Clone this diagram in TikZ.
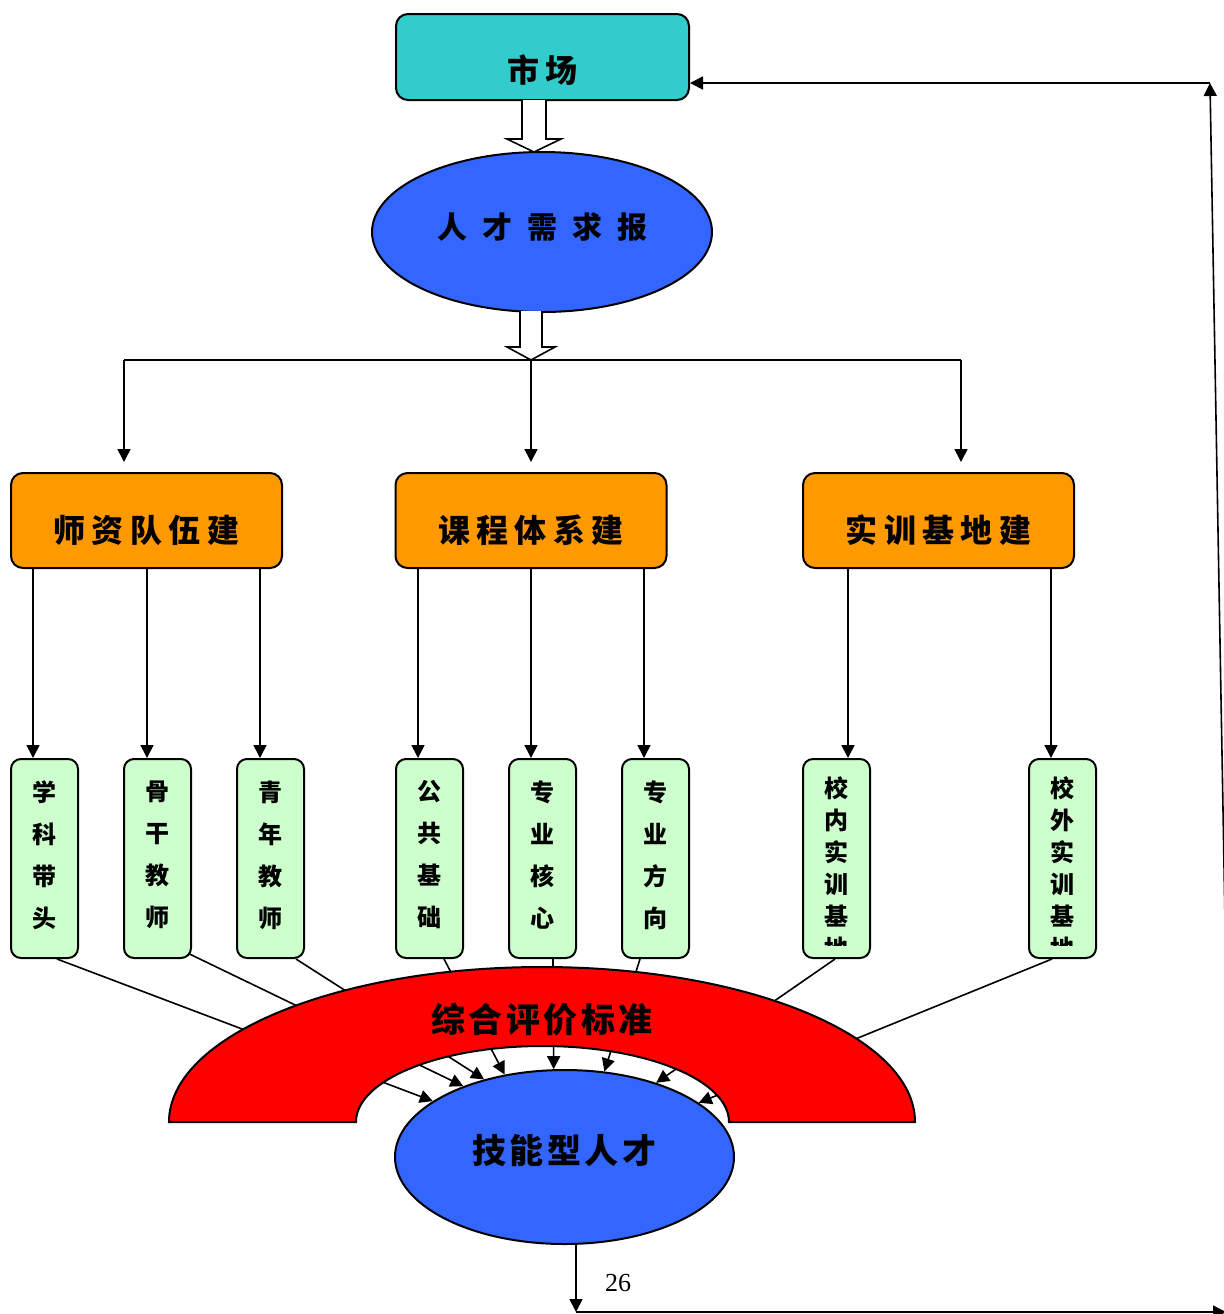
\documentclass[tikz,border=0pt]{standalone}
\usepackage{fontspec}
\newfontfamily\cjk{Noto Sans CJK SC}
\newfontfamily\tms{Liberation Serif}
\usetikzlibrary{arrows.meta,shapes.geometric,calc}
\definecolor{cteal}{HTML}{33CCCC}
\definecolor{cblue}{HTML}{3366FF}
\definecolor{corange}{HTML}{FF9900}
\definecolor{cgreen}{HTML}{CCFFCC}
\definecolor{cred}{HTML}{FF0000}
\newcommand\lowr[2]{\raisebox{-#1}[\height][\depth]{#2}}
\begin{document}
\begin{tikzpicture}[x=0.5pt,y=-0.5pt,
  arr/.style={draw, line width=0.8pt, -{Triangle[length=6.5pt,width=6.5pt]}},
  busline/.style={draw, line width=1.4pt},
  hollow/.style={draw, line width=0.8pt, fill=white, line join=miter},
  mkbox/.style={draw, line width=1pt, rounded corners=6pt, fill=cteal, inner sep=0pt,
    minimum width=146.5pt, minimum height=43pt, font=\cjk\bfseries\fontsize{16}{16}\selectfont},
  ell/.style={draw, line width=1pt, ellipse, fill=cblue, inner sep=0pt},
  obox/.style={draw, line width=1pt, rounded corners=6pt, fill=corange, inner sep=0pt,
    minimum width=135.5pt, minimum height=47.5pt, font=\cjk\bfseries\fontsize{16}{16}\selectfont},
  gbox/.style={draw, line width=1pt, rounded corners=5pt, fill=cgreen, inner sep=0pt,
    minimum width=33.5pt, minimum height=99.5pt},
  vtxt/.style={align=center, inner sep=0pt, font=\cjk\bfseries\fontsize{12}{21}\selectfont},
  vtxtb/.style={align=center, inner sep=0pt, font=\cjk\bfseries\fontsize{12}{16}\selectfont},
]
\clip (0,0) rectangle (1224,1314);
\fill[white] (0,0) rectangle (1224,1314);

% top
\node[mkbox] (mk) at (542.5,57) {\lowr{6.5pt}{市\kern3pt 场}};
\node[ell, minimum width=170pt, minimum height=80pt,
  font=\cjk\bfseries\fontsize{15}{15}\selectfont] (req) at (542,232)
  {\lowr{-2.5pt}{人\kern7.5pt 才\kern7.5pt 需\kern7.5pt 求\kern7.5pt 报}};
\draw[hollow] (522,100) -- (522,139) -- (507,139) -- (534,152) -- (561,139) -- (546,139) -- (546,100);
\draw[hollow] (520,311) -- (520,347) -- (507,347) -- (531,360) -- (555,347) -- (542,347) -- (542,311);

% bus
\coordinate (bl) at (124,360);
\coordinate (bm) at (531,360);
\coordinate (br) at (961,360);
\draw[busline] (bl) -- (br);

% orange
\node[obox] (o1) at (146.5,520.5) {\lowr{5pt}{师\kern3.25pt 资\kern3.25pt 队\kern3.25pt 伍\kern3.25pt 建}};
\node[obox] (o2) at (531,520.5) {\lowr{5pt}{课\kern3.25pt 程\kern3.25pt 体\kern3.25pt 系\kern3.25pt 建}};
\node[obox] (o3) at (938.5,520.5) {\lowr{5pt}{实\kern3.25pt 训\kern3.25pt 基\kern3.25pt 地\kern3.25pt 建}};
\draw[arr] (bl) -- ($(bl |- o1.north)+(0,-10)$);
\draw[arr] (bm) -- ($(bm |- o2.north)+(0,-10)$);
\draw[arr] (br) -- ($(br |- o3.north)+(0,-10)$);

% green
\node[gbox] (g1) at (44.5,858.5) {};
\node[gbox] (g2) at (157.5,858.5) {};
\node[gbox] (g3) at (270.5,858.5) {};
\node[gbox] (g4) at (429.5,858.5) {};
\node[gbox] (g5) at (542.5,858.5) {};
\node[gbox] (g6) at (655.5,858.5) {};
\node[gbox] (g7) at (836.5,858.5) {};
\node[gbox] (g8) at (1062.5,858.5) {};
\node[vtxt] (x1) at (44.5,855) {学\\科\\带\\头};
\node[vtxt] (x2) at (157.5,855) {骨\\干\\教\\师};
\node[vtxt] (x3) at (270.5,855) {青\\年\\教\\师};
\node[vtxt] (x4) at (429.5,855) {公\\共\\基\\础};
\node[vtxt] (x5) at (542.5,855) {专\\业\\核\\心};
\node[vtxt] (x6) at (655.5,855) {专\\业\\方\\向};
\begin{scope}
\clip (803,760) rectangle (870,945);
\node[vtxtb] (x7) at (836.5,868) {校\\内\\实\\训\\基\\地};
\end{scope}
\begin{scope}
\clip (1029,760) rectangle (1096,945);
\node[vtxtb] (x8) at (1062.5,868) {校\\外\\实\\训\\基\\地};
\end{scope}

\coordinate (t1) at ([xshift=-5.75pt]g1.north);
\coordinate (t2) at ([xshift=-5.25pt]g2.north);
\coordinate (t3) at ([xshift=-5.25pt]g3.north);
\coordinate (t4) at ([xshift=-5.75pt]g4.north);
\coordinate (t5) at ([xshift=-5.75pt]g5.north);
\coordinate (t6) at ([xshift=-5.75pt]g6.north);
\coordinate (t7) at ([xshift=5.75pt]g7.north);
\coordinate (t8) at ([xshift=-5.75pt]g8.north);
\draw[arr] (t1 |- o1.south) -- (t1);
\draw[arr] (t2 |- o1.south) -- (t2);
\draw[arr] (t3 |- o1.south) -- (t3);
\draw[arr] (t4 |- o2.south) -- (t4);
\draw[arr] (t5 |- o2.south) -- (t5);
\draw[arr] (t6 |- o2.south) -- (t6);
\draw[arr] (t7 |- o3.south) -- (t7);
\draw[arr] (t8 |- o3.south) -- (t8);

% bottom ellipse
\node[ell, minimum width=169.5pt, minimum height=87pt,
  font=\cjk\bfseries\fontsize{17}{17}\selectfont] (tal) at (564.5,1157)
  {\lowr{-3pt}{技\kern1.75pt 能\kern1.75pt 型\kern1.75pt 人\kern1.75pt 才}};

% converging connectors
\draw[arr] ([xshift=6.25pt]g1.south) -- (tal.157.7);
\draw[arr] ([xshift=16pt,yshift=2.5pt]g2.south) -- (tal.145.8);
\draw[arr] ([xshift=12.75pt]g3.south) -- (tal.136.8);
\draw[arr] ([xshift=7.25pt]g4.south) -- (tal.126.5);
\draw[arr] ([xshift=5.25pt]g5.south) -- (tal.97.9);
\draw[arr] ([xshift=-7.75pt]g6.south) -- (tal.65.9);
\draw[arr] ([xshift=-0.75pt]g7.south) -- (tal.39.8);
\draw[arr] ([xshift=-5.25pt]g8.south) -- (tal.22.2);

% red arch
\draw[fill=cred, line width=1pt] (169,1122) arc[start angle=180, end angle=360, x radius=373, y radius=155]
  -- (729,1122) arc[start angle=0, end angle=-180, x radius=186.5, y radius=76] -- cycle;
\node[font=\cjk\bfseries\fontsize{17}{17}\selectfont, inner sep=0pt] (evl) at (542,1020)
  {综\kern1.8pt 合\kern1.8pt 评\kern1.8pt 价\kern1.8pt 标\kern1.8pt 准};

% feedback loop
\coordinate (fa) at (576,1312);
\coordinate (fb) at (1226,1312);
\coordinate (fc) at (1232,1312);
\coordinate (fd) at (1210,83);
\draw[arr] (fa |- tal.south) -- (fa);
\draw[arr] (fa) -- (fb);
\draw[arr] (fc) -- (fd);
\draw[arr] (fd) -- (mk.east |- fd);
\node[font=\tms\fontsize{13}{13}\selectfont, inner sep=0pt] (pg) at (618,1283) {26};
\end{tikzpicture}
\end{document}
